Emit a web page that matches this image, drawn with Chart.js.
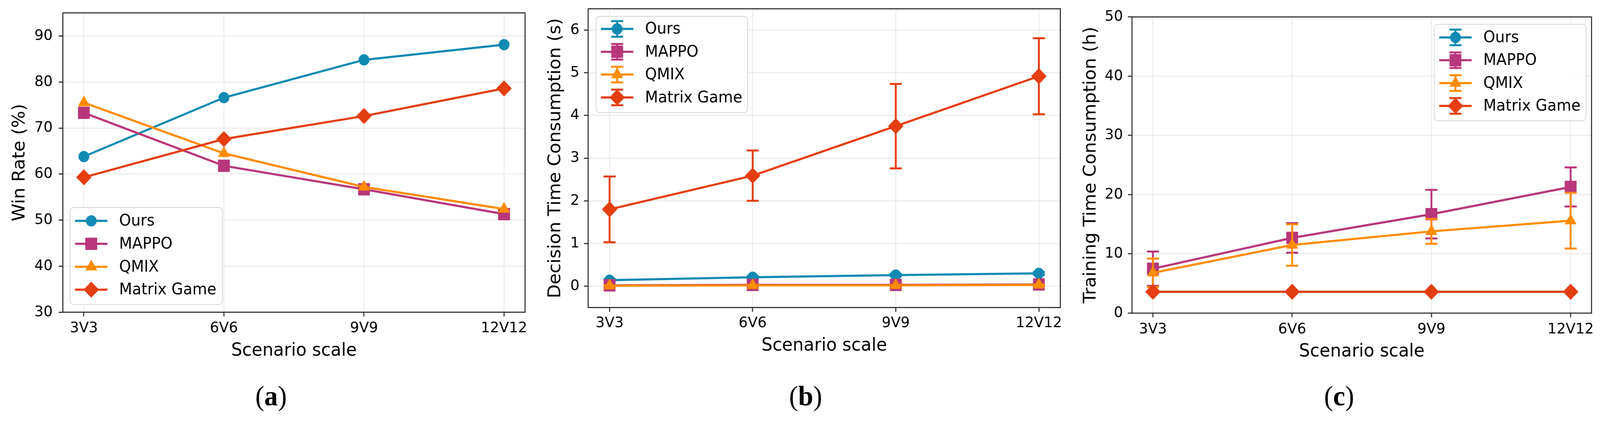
<!DOCTYPE html>
<html><head><meta charset="utf-8">
<script src="https://cdn.jsdelivr.net/npm/chart.js@4/dist/chart.umd.min.js"></script>
<style>
html,body{margin:0;padding:0;background:#fff;overflow:hidden;}
#stage{position:absolute;left:0;top:0;width:4244px;height:1077px;transform-origin:0 0;background:#fff;}
.panel{position:absolute;top:0;height:960px;}
.cap{position:absolute;top:977px;font-family:"Liberation Serif","Times New Roman",serif;font-size:72px;line-height:72px;width:200px;text-align:center;color:#000;}
.cap b{font-weight:bold;}
</style></head><body>
<div id="stage">
<div class="panel" style="left:0px;width:1420px"><canvas id="ca" width="1420" height="960" style="width:1420px;height:960px"></canvas></div>
<div class="panel" style="left:1420px;width:1415px"><canvas id="cb" width="1415" height="960" style="width:1415px;height:960px"></canvas></div>
<div class="panel" style="left:2835px;width:1409px"><canvas id="cc" width="1409" height="960" style="width:1409px;height:960px"></canvas></div>
<div class="cap" style="left:619px">(<b>a</b>)</div>
<div class="cap" style="left:2037px">(<b>b</b>)</div>
<div class="cap" style="left:3452px">(<b>c</b>)</div>
</div>
<script>
// fit the 4244x1077 stage into whatever viewport the browser reports
(function () {
  const st = document.getElementById('stage');
  const sx = window.innerWidth / 4244, sy = window.innerHeight / 1077;
  if (Math.abs(sx - 1) > 0.002 || Math.abs(sy - 1) > 0.002) st.style.transform = 'scale(' + sx + ',' + sy + ')';
})();

// ---------- data ----------
const scenarios = ['3V3', '6V6', '9V9', '12V12'];
const seriesNames = ['Ours', 'MAPPO', 'QMIX', 'Matrix Game'];

// (a) Win Rate (%)
const winOurs   = [63.8, 76.6, 84.8, 88.1];
const winMappo  = [73.3, 61.8, 56.7, 51.3];
const winQmix   = [75.5, 64.5, 57.2, 52.4];
const winMatrix = [59.3, 67.6, 72.6, 78.6];

// (b) Decision Time Consumption (s)
const decOurs      = [0.14, 0.21, 0.26, 0.30];
const decOursErr   = [0.03, 0.03, 0.03, 0.03];
const decMappo     = [0.02, 0.03, 0.03, 0.04];
const decMappoErr  = [0.01, 0.01, 0.01, 0.01];
const decQmix      = [0.01, 0.02, 0.02, 0.03];
const decQmixErr   = [0.01, 0.01, 0.01, 0.01];
const decMatrix    = [1.80, 2.59, 3.75, 4.92];
const decMatrixErr = [0.77, 0.59, 0.99, 0.89];

// (c) Training Time Consumption (h)
const trainOurs      = [3.6, 3.6, 3.6, 3.6];
const trainOursErr   = [0.1, 0.1, 0.1, 0.1];
const trainMappo     = [7.5, 12.7, 16.7, 21.3];
const trainMappoErr  = [2.9, 2.5, 4.1, 3.3];
const trainQmix      = [6.8, 11.5, 13.8, 15.6];
const trainQmixErr   = [2.4, 3.5, 2.1, 4.7];
const trainMatrix    = [3.6, 3.6, 3.6, 3.6];
const trainMatrixErr = [0.1, 0.1, 0.1, 0.1];

// ---------- styles ----------
const colors = ['#118AB2', '#B8377A', '#FF8C00', '#E43E12'];
const pStyles = ['circle', 'rect', 'triangle', 'rectRot'];
const pRadii = [14, 21.5, 17.5, 20];
const FONT = "'DejaVu Sans', 'Liberation Sans', sans-serif";
const INK = '#000';
const SPINE = '#262626';

function roundRect(ctx, x, y, w, h, r) {
  ctx.beginPath();
  ctx.moveTo(x + r, y);
  ctx.lineTo(x + w - r, y); ctx.arcTo(x + w, y, x + w, y + r, r);
  ctx.lineTo(x + w, y + h - r); ctx.arcTo(x + w, y + h, x + w - r, y + h, r);
  ctx.lineTo(x + r, y + h); ctx.arcTo(x, y + h, x, y + h - r, r);
  ctx.lineTo(x, y + r); ctx.arcTo(x, y, x + r, y, r);
  ctx.closePath();
}

const errorBarPlugin = {
  id: 'errBars',
  beforeDatasetDraw(chart, args) {
    const ds = chart.data.datasets[args.index];
    if (!ds.errors) return;
    const xs = chart.scales.x, ys = chart.scales.y, ctx = chart.ctx;
    ctx.save();
    ctx.strokeStyle = ds.borderColor; ctx.lineWidth = 5; ctx.lineCap = 'butt';
    ds.data.forEach((p, i) => {
      const e = ds.errors[i];
      const x = xs.getPixelForValue(p.x);
      const y1 = ys.getPixelForValue(p.y - e), y2 = ys.getPixelForValue(p.y + e);
      ctx.beginPath();
      ctx.moveTo(x, y1); ctx.lineTo(x, y2);
      ctx.moveTo(x - 16, y1); ctx.lineTo(x + 16, y1);
      ctx.moveTo(x - 16, y2); ctx.lineTo(x + 16, y2);
      ctx.stroke();
    });
    ctx.restore();
  }
};

const framePlugin = {
  id: 'frame',
  afterDatasetsDraw(chart) {
    const a = chart.chartArea, ctx = chart.ctx;
    ctx.save();
    ctx.strokeStyle = SPINE; ctx.lineWidth = 2.7;
    ctx.strokeRect(a.left, a.top, a.right - a.left, a.bottom - a.top);
    ctx.restore();
  }
};

const boxLegendPlugin = {
  id: 'boxLegend',
  afterDraw(chart, args, L) {
    if (!L || !L.box) return;
    const ctx = chart.ctx, b = L.box;
    ctx.save();
    roundRect(ctx, b.x, b.y, b.w, b.h, 9);
    ctx.fillStyle = 'rgba(255,255,255,0.85)'; ctx.fill();
    ctx.strokeStyle = '#d6d6d6'; ctx.lineWidth = 2; ctx.stroke();
    chart.data.datasets.forEach((ds, i) => {
      const y = b.y + L.firstRow + i * L.rowGap;
      const x0 = b.x + 13, xm = x0 + 43, x1 = x0 + 86;
      ctx.strokeStyle = ds.borderColor; ctx.fillStyle = ds.borderColor;
      if (L.errorGlyph) {
        ctx.lineWidth = 5;
        ctx.beginPath();
        ctx.moveTo(xm, y - 20); ctx.lineTo(xm, y + 20);
        ctx.moveTo(xm - 16, y - 20); ctx.lineTo(xm + 16, y - 20);
        ctx.moveTo(xm - 16, y + 20); ctx.lineTo(xm + 16, y + 20);
        ctx.stroke();
      }
      ctx.lineWidth = 5.5;
      ctx.beginPath(); ctx.moveTo(x0, y); ctx.lineTo(x1, y); ctx.stroke();
      ctx.lineWidth = 1;
      Chart.helpers.drawPoint(ctx, {pointStyle: ds.pointStyle, radius: ds.pointRadius, rotation: 0, borderWidth: 1}, xm, y);
      ctx.fillStyle = INK;
      ctx.font = '40px ' + FONT;
      ctx.textAlign = 'left'; ctx.textBaseline = 'middle';
      ctx.fillText(seriesNames[i], b.x + 130, y + 2);
    });
    ctx.restore();
  }
};

function makePanel(id, cfg) {
  const datasets = cfg.values.map((vals, i) => ({
    label: seriesNames[i],
    data: vals.map((v, k) => ({x: k, y: v})),
    errors: cfg.errors ? cfg.errors[i] : null,
    borderColor: colors[i],
    backgroundColor: colors[i],
    pointBackgroundColor: colors[i],
    pointBorderColor: colors[i],
    pointBorderWidth: 1,
    pointStyle: pStyles[i],
    pointRadius: pRadii[i],
    borderWidth: 5.5,
    tension: 0,
    order: 4 - i,
    clip: false
  }));
  new Chart(document.getElementById(id), {
    type: 'line',
    data: {datasets},
    options: {
      responsive: false, animation: false, devicePixelRatio: 1, events: [],
      layout: {padding: {left: 0, top: cfg.top, right: cfg.right, bottom: 0}},
      plugins: {
        legend: {display: false}, tooltip: {enabled: false},
        boxLegend: cfg.legend
      },
      scales: {
        x: {
          type: 'linear', min: -0.15, max: 3.15,
          afterBuildTicks: s => { s.ticks = scenarios.map((_, k) => ({value: k})); },
          afterFit: s => { s.height = 960 - cfg.bottomArea; s.paddingLeft = 0; s.paddingRight = 0; },
          ticks: {callback: v => scenarios[v], color: INK, font: {family: FONT, size: 38}, padding: cfg.xTickPad, maxRotation: 0, autoSkip: false},
          grid: {color: '#e7e7e7', lineWidth: 2, tickColor: SPINE, tickWidth: 2.7, tickLength: 11, drawTicks: true},
          border: {display: false},
          title: {display: true, text: 'Scenario scale', color: INK, font: {family: FONT, size: 46}, padding: {top: 0, bottom: cfg.xTitlePad}}
        },
        y: {
          type: 'linear', min: cfg.yMin, max: cfg.yMax,
          afterBuildTicks: s => { s.ticks = cfg.yTicks.map(v => ({value: v})); },
          afterFit: s => { s.width = cfg.left; s.paddingTop = 0; s.paddingBottom = 0; },
          ticks: {color: INK, font: {family: FONT, size: 38}, padding: cfg.yTickPad},
          grid: {color: '#e7e7e7', lineWidth: 2, tickColor: SPINE, tickWidth: 2.7, tickLength: 11, drawTicks: true},
          border: {display: false},
          title: {display: true, text: cfg.yTitle, color: INK, font: {family: FONT, size: 46}, padding: {top: cfg.yTitlePad, bottom: 0}}
        }
      }
    },
    plugins: [errorBarPlugin, framePlugin, boxLegendPlugin]
  });
}

makePanel('ca', {
  values: [winOurs, winMappo, winQmix, winMatrix], errors: null,
  yMin: 30, yMax: 95, yTicks: [30, 40, 50, 60, 70, 80, 90],
  yTitle: 'Win Rate (%)',
  left: 166.7, top: 33, right: 1420 - 1392.7, bottomArea: 798.7,
  xTickPad: 8, yTickPad: 16, xTitlePad: 34, yTitlePad: 25,
  legend: {box: {x: 186, y: 531, w: 404, h: 248}, firstRow: 34, rowGap: 58.7, errorGlyph: false}
});

makePanel('cb', {
  values: [decOurs, decMappo, decQmix, decMatrix],
  errors: [decOursErr, decMappoErr, decQmixErr, decMatrixErr],
  yMin: -0.5, yMax: 6.5, yTicks: [0, 1, 2, 3, 4, 5, 6],
  yTitle: 'Decision Time Consumption (s)',
  left: 140, top: 20.7, right: 1415 - (2813.3 - 1420), bottomArea: 786.7,
  xTickPad: 7, yTickPad: 12, xTitlePad: 47, yTitlePad: 26,
  legend: {box: {x: 161, y: 42, w: 402, h: 246}, firstRow: 32, rowGap: 58.4, errorGlyph: true}
});

makePanel('cc', {
  values: [trainOurs, trainMappo, trainQmix, trainMatrix],
  errors: [trainOursErr, trainMappoErr, trainQmixErr, trainMatrixErr],
  yMin: 0, yMax: 50, yTicks: [0, 10, 20, 30, 40, 50],
  yTitle: 'Training Time Consumption (h)',
  left: 167.7, top: 43.3, right: 1409 - (4229.7 - 2835), bottomArea: 801,
  xTickPad: 8, yTickPad: 13, xTitlePad: 32, yTitlePad: 31,
  legend: {box: {x: 969.6, y: 62, w: 402.4, h: 247}, firstRow: 33.7, rowGap: 58.4, errorGlyph: true}
});
</script>
</body></html>
